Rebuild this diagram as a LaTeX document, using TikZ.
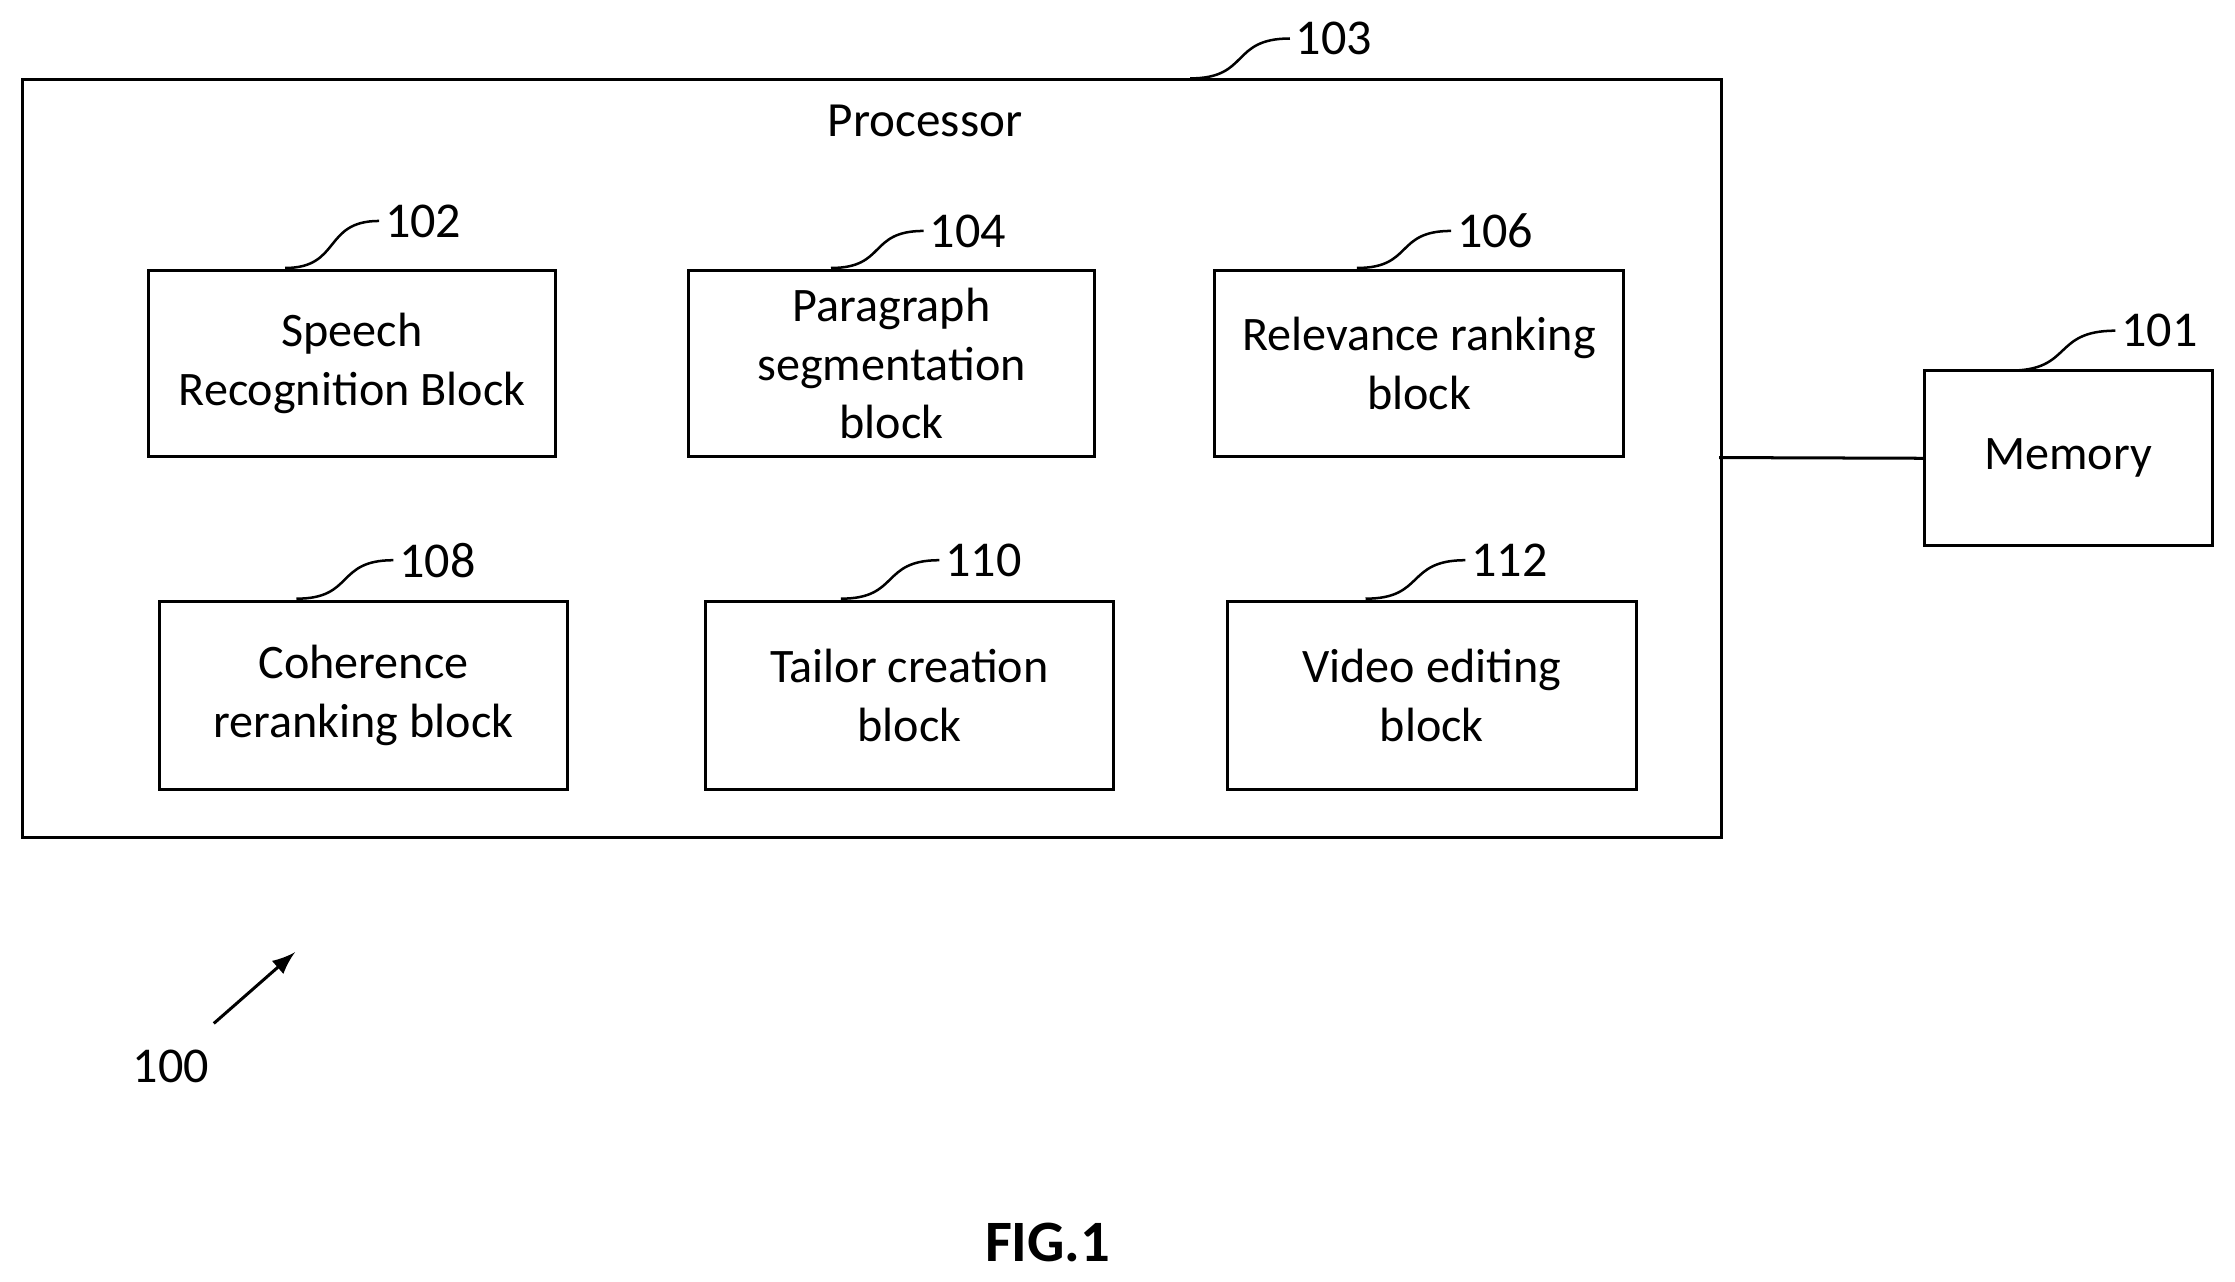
\documentclass[tikz,border=0pt]{standalone}
\usepackage{fontspec}
\setmainfont{Carlito}
\begin{document}
\begin{tikzpicture}[x=0.01cm,y=-0.01cm,
  blk/.style={draw,line width=0.6pt,align=center,font=\fontsize{9.6}{11.7}\selectfont},
  lbl/.style={font=\fontsize{10}{12}\selectfont,anchor=west,inner sep=1pt},
  lead/.style={line width=0.5pt}]
\useasboundingbox (0,0) rectangle (1568,899);
\node[draw,line width=0.6pt,minimum width=11.91cm,minimum height=5.31cm,inner sep=0,anchor=north west] (proc) at (15,55) {};
\node[font=\fontsize{9.8}{11}\selectfont] (ptxt) at (649,85) {Processor};
\def\bx#1#2#3#4#5#6{\node[blk,minimum width={(#4-#2)*0.01cm},minimum height={(#5-#3)*0.01cm},inner sep=0] (#1) at ({(#2+#4)/2},{(#3+#5)/2}) {#6};}
\bx{b102}{104}{190}{390}{320}{Speech\\Recognition Block}
\bx{b104}{483}{190}{768}{320}{Paragraph\\segmentation\\block}
\bx{b106}{852}{190}{1139}{320}{Relevance ranking\\block}
\bx{b108}{112}{422}{398}{554}{Coherence\\reranking block}
\bx{b110}{495}{422}{781}{554}{Tailor creation\\block}
\bx{b112}{861}{422}{1148}{554}{Video editing\\block}
\bx{mem}{1350}{260}{1552}{383}{Memory}
\coordinate (pr) at (1206,321);
\draw[line width=0.6pt] (pr) -- (mem.west);
\def\ld#1#2#3#4#5{\coordinate (s#1) at (#2,#3); \coordinate (e#1) at (#4,#5);
  \draw[lead] (s#1) .. controls ({#2+0.6*(#4-#2)},#3) and ({#2+0.4*(#4-#2)},#5) .. (e#1);
  \node[lbl] (l#1) at (e#1) {#1};}
\ld{103}{835}{55}{905}{27}
\ld{102}{200}{188}{266}{155}
\ld{104}{583}{188}{648}{162}
\ld{106}{952}{188}{1018}{162}
\ld{101}{1410}{260}{1484}{232}
\ld{108}{208}{420}{276}{393}
\ld{110}{590}{420}{659}{393}
\ld{112}{958}{420}{1028}{393}
\coordinate (a0) at (150,718); \coordinate (a1) at (207,668);
\draw[line width=0.6pt,-latex] (a0) -- (a1);
\node[font=\fontsize{10}{12}\selectfont] (l100) at (120,748) {100};
\node[font=\bfseries\fontsize{11.7}{13}\selectfont] (fig) at (735,872) {FIG.1};
\end{tikzpicture}
\end{document}
